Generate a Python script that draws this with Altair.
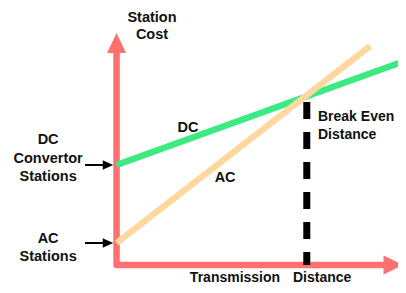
import altair as alt
import pandas as pd

# Conceptual values (arbitrary units): distance vs station cost
dc_distance = [0, 153]
dc_cost = [50, 101.5]
ac_distance = [0, 136]
ac_cost = [11, 109.5]
break_even_distance = 102
break_even_cost = 81.5

axis_x = [0, 0, 146]
axis_y = [106, 0, 0]
axis_order = [0, 1, 2]
arrow_x = [0, 148.5]
arrow_y = [111, 0]
arrow_shape = ["M0,-1L0.95,1L-0.95,1Z", "M1,0L-1,-0.95L-1,0.95Z"]

pointer_start = -16.9
pointer_end = -6.0
pointer_head = -4.6

label_text = ["Station", "Cost", "DC", "Convertor", "Stations", "AC", "Stations",
              "DC", "AC", "Break Even", "Distance", "Transmission", "Distance"]
label_x = [19, 19, -36.7, -36.7, -36.7, -36.7, -36.7, 38.3, 58.2, 108, 108, 63.5, 94.6]
label_y = [123.5, 115, 62.5, 53, 44, 13, 4, 68.5, 43.5, 74, 65, -6.3, -6.3]
label_align = ["center"] * 9 + ["left", "left", "center", "left"]
label_size = [14.5] * 9 + [14, 14, 14, 14]

PINK = "#FF7070"
GREEN = "#3BEA80"
PEACH = "#FFD8A0"

xs = alt.Scale(domain=[-58.2, 150.9], nice=False, zero=False)
ys = alt.Scale(domain=[-10, 128.5], nice=False, zero=False)

def X(f):
    return alt.X(f, type="quantitative", scale=xs, axis=None)

def Y(f):
    return alt.Y(f, type="quantitative", scale=ys, axis=None)

axis_df = pd.DataFrame({"d": axis_x, "c": axis_y, "o": axis_order})
axes = alt.Chart(axis_df).mark_line(color=PINK, strokeWidth=6.5, strokeJoin="round").encode(
    x=X("d"), y=Y("c"), order="o:Q")

arrow_df = pd.DataFrame({"d": arrow_x, "c": arrow_y, "s": arrow_shape})
arrows = alt.Chart(arrow_df).mark_point(filled=True, color=PINK, size=400, opacity=1, strokeWidth=0).encode(
    x=X("d"), y=Y("c"), shape=alt.Shape("s:N", scale=None))

be_df = pd.DataFrame({"d": [break_even_distance], "c": [break_even_cost], "c2": [0]})
dashed = alt.Chart(be_df).mark_rule(color="black", strokeWidth=7, strokeDash=[17, 13], strokeCap="butt").encode(
    x=X("d"), y=Y("c"), y2="c2")

dc_df = pd.DataFrame({"d": dc_distance, "c": dc_cost})
dc_line = alt.Chart(dc_df).mark_line(color=GREEN, strokeWidth=6.5).encode(x=X("d"), y=Y("c"))

ac_df = pd.DataFrame({"d": ac_distance, "c": ac_cost})
ac_line = alt.Chart(ac_df).mark_line(color=PEACH, strokeWidth=6.5).encode(x=X("d"), y=Y("c"))

ptr_df = pd.DataFrame({"d": [pointer_start, pointer_start], "d2": [pointer_end, pointer_end],
                       "c": [dc_cost[0], ac_cost[0]]})
ptr_lines = alt.Chart(ptr_df).mark_rule(color="black", strokeWidth=2).encode(
    x=X("d"), x2="d2", y=Y("c"))
ptr_head_df = pd.DataFrame({"d": [pointer_head, pointer_head], "c": [dc_cost[0], ac_cost[0]]})
ptr_heads = alt.Chart(ptr_head_df).mark_point(filled=True, color="black", size=110, opacity=1,
                                              strokeWidth=0, shape="M1,0L-1,-0.9L-1,0.9Z").encode(
    x=X("d"), y=Y("c"))

lab_df = pd.DataFrame({"t": label_text, "d": label_x, "c": label_y, "a": label_align, "s": label_size})
labels_c = alt.Chart(lab_df[lab_df.a == "center"]).mark_text(
    font="Liberation Sans", fontWeight="bold", color="#111111",
    align="center", baseline="middle").encode(
    x=X("d"), y=Y("c"), text="t:N", size=alt.Size("s:Q", scale=None, legend=None))
labels_l = alt.Chart(lab_df[lab_df.a == "left"]).mark_text(
    font="Liberation Sans", fontWeight="bold", color="#111111",
    align="left", baseline="middle").encode(
    x=X("d"), y=Y("c"), text="t:N", size=alt.Size("s:Q", scale=None, legend=None))

chart = alt.layer(axes, arrows, dashed, dc_line, ac_line, ptr_lines, ptr_heads, labels_c, labels_l).properties(
    width=390, height=277, padding=0, autosize=alt.AutoSizeParams(type="none"),
    background="white"
).configure_view(stroke=None)

chart.save("out.html", embed_options={"renderer": "svg", "actions": False})
